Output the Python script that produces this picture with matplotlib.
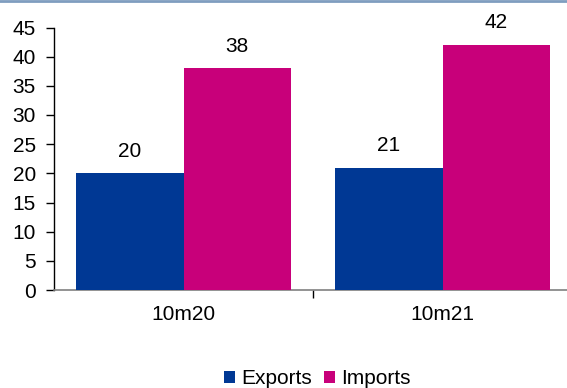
import matplotlib
matplotlib.use("Agg")
import matplotlib.pyplot as plt
import numpy as np

plt.rcParams['font.family'] = ['Liberation Sans', 'DejaVu Sans']

categories = ["10m20", "10m21"]
exports = [20, 21]
imports = [38, 42]
series_names = ["Exports", "Imports"]
colors = ["#003894", "#C8007A"]
yticks = [0, 5, 10, 15, 20, 25, 30, 35, 40, 45]

fig = plt.figure(figsize=(5.67, 3.88), dpi=100)
# top rule across the figure
fig.add_artist(plt.Line2D([0, 1], [0.998, 0.998], color="#7F9DBF", lw=2,
                          transform=fig.transFigure))

ax = fig.add_axes([54 / 567, 1 - 290 / 388, 518 / 567, (290 - 27.5) / 388])

x = np.arange(len(categories))
w = 0.415
b1 = ax.bar(x - w / 2, exports, w, color=colors[0], label=series_names[0], zorder=3)
b2 = ax.bar(x + w / 2, imports, w, color=colors[1], label=series_names[1], zorder=3)

fs = 15
for bars, vals in ((b1, exports), (b2, imports)):
    for r, v in zip(bars, vals):
        ax.annotate(f"{v}", (r.get_x() + r.get_width() / 2, v),
                    xytext=(0, 9), textcoords="offset points",
                    ha="center", va="bottom", fontsize=fs, color="#000000")

ax.set_xlim(-0.5, 1.5)
ax.set_ylim(0, 45)
ax.set_yticks(yticks)
ax.set_yticklabels([str(t) for t in yticks], fontsize=fs)
ax.set_xticks(x)
ax.set_xticklabels(categories, fontsize=fs)
ax.tick_params(axis="x", length=0, pad=11)
ax.set_xticks([0.5], minor=True)
ax.tick_params(axis="x", which="minor", length=6, width=1, color="#000000", direction="out")
ax.tick_params(axis="y", length=6, width=1, color="#000000", direction="out", pad=7)

for s in ("top", "right"):
    ax.spines[s].set_visible(False)
ax.spines["left"].set_color("#000000")
ax.spines["left"].set_linewidth(1)
ax.spines["bottom"].set_color("#808080")
ax.spines["bottom"].set_linewidth(1.2)

fig.legend(handles=[b1, b2], labels=series_names, loc="center",
           bbox_to_anchor=(317.5 / 567, 1 - 379 / 388), ncol=2, frameon=False,
           fontsize=fs, handlelength=0.5, handleheight=0.5, handletextpad=0.3,
           columnspacing=0.6, borderpad=0, borderaxespad=0)

fig.savefig("out.png", dpi=100)
